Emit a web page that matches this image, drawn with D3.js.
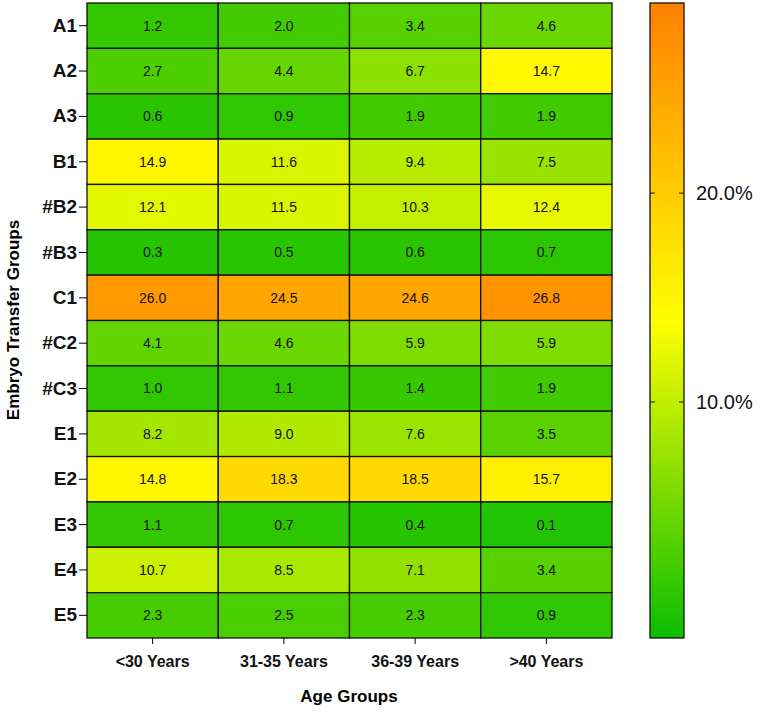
<!DOCTYPE html><html><head><script src="https://cdn.jsdelivr.net/npm/d3@7"></script>
<style>body{margin:0;background:#fff}text{font-family:Arial,"Liberation Sans",sans-serif}</style></head><body><svg id="c" width="768" height="712"></svg>
<script>
const rows=["A1","A2","A3","B1","#B2","#B3","C1","#C2","#C3","E1","E2","E3","E4","E5"];
const cols=["<30 Years","31-35 Years","36-39 Years",">40 Years"];
const values=[[1.2,2.0,3.4,4.6],[2.7,4.4,6.7,14.7],[0.6,0.9,1.9,1.9],[14.9,11.6,9.4,7.5],[12.1,11.5,10.3,12.4],[0.3,0.5,0.6,0.7],[26.0,24.5,24.6,26.8],[4.1,4.6,5.9,5.9],[1.0,1.1,1.4,1.9],[8.2,9.0,7.6,3.5],[14.8,18.3,18.5,15.7],[1.1,0.7,0.4,0.1],[10.7,8.5,7.1,3.4],[2.3,2.5,2.3,0.9]];
const cbTicks=[10,20];
const svg=d3.select("#c");
const x=d3.scaleBand().domain(cols).range([87,612]);
const y=d3.scaleBand().domain(rows).range([3,638]);
const color=d3.scaleLinear().domain([-1.3,13.9,29.1]).range(["#0cbd00","#ffff00","#ff8000"]);
const g=svg.append("g");
values.forEach((r,i)=>r.forEach((v,j)=>{
 g.append("rect").attr("x",x(cols[j])).attr("y",y(rows[i])).attr("width",x.bandwidth()).attr("height",y.bandwidth()).attr("fill",color(v)).attr("stroke","#111").attr("stroke-width",1.3);
 g.append("text").attr("x",x(cols[j])+x.bandwidth()/2).attr("y",y(rows[i])+y.bandwidth()/2).attr("dy","0.35em").attr("text-anchor","middle").attr("font-size",14).attr("fill","#111").text(v.toFixed(1));
}));
const ya=svg.append("g").attr("transform","translate(87,0)").call(d3.axisLeft(y).tickSize(8).tickPadding(2));
ya.select(".domain").remove();
ya.selectAll("text").attr("font-size",19).attr("font-weight","bold").attr("fill","#111");
const xa=svg.append("g").attr("transform","translate(0,638)").call(d3.axisBottom(x).tickSize(6).tickPadding(12));
xa.select(".domain").remove();
xa.selectAll("text").attr("font-size",16).attr("font-weight","bold").attr("fill","#111");
svg.append("text").attr("x",349).attr("y",702).attr("text-anchor","middle").attr("font-size",17).attr("font-weight","bold").text("Age Groups");
svg.append("text").attr("transform","translate(19,320) rotate(-90)").attr("text-anchor","middle").attr("font-size",17).attr("font-weight","bold").text("Embryo Transfer Groups");
const cy=d3.scaleLinear().domain([-1.3,29.1]).range([638,3]);
const defs=svg.append("defs");
const grad=defs.append("linearGradient").attr("id","gr").attr("x1",0).attr("y1",1).attr("x2",0).attr("y2",0);
color.domain().forEach(d=>grad.append("stop").attr("offset",(d+1.3)/30.4).attr("stop-color",color(d)));
svg.append("rect").attr("x",650).attr("y",3).attr("width",34).attr("height",635).attr("fill","url(#gr)").attr("stroke","#111").attr("stroke-width",1.3);
const ca=svg.append("g").attr("transform","translate(684,0)").call(d3.axisRight(cy).tickValues(cbTicks).tickFormat(d=>d.toFixed(1)+"%").tickSize(0).tickPadding(12));
ca.select(".domain").remove();
ca.selectAll("text").attr("font-size",20).attr("fill","#111");
cbTicks.forEach(t=>{svg.append("line").attr("x1",650).attr("x2",655).attr("y1",cy(t)).attr("y2",cy(t)).attr("stroke","#111");svg.append("line").attr("x1",679).attr("x2",684).attr("y1",cy(t)).attr("y2",cy(t)).attr("stroke","#111");});
</script></body></html>
